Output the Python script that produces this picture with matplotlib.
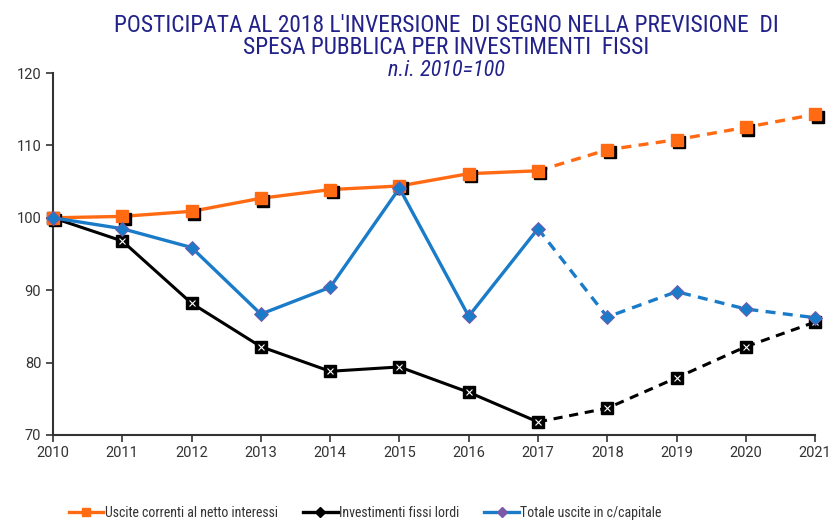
import matplotlib
matplotlib.use("Agg")
import matplotlib.pyplot as plt
from matplotlib.lines import Line2D
from matplotlib import font_manager
import matplotlib.transforms as mtransforms

years = [2010, 2011, 2012, 2013, 2014, 2015, 2016, 2017, 2018, 2019, 2020, 2021]
uscite_correnti = [100.0, 100.2, 100.9, 102.7, 103.9, 104.4, 106.1, 106.5, 109.4, 110.8, 112.5, 114.3]
investimenti = [100.0, 96.8, 88.2, 82.2, 78.8, 79.4, 75.9, 71.8, 73.7, 77.9, 82.2, 85.6]
totale_capitale = [100.0, 98.5, 95.9, 86.7, 90.4, 104.1, 86.4, 98.5, 86.3, 89.8, 87.4, 86.2]
split = 7  # index of 2017: dashed from here

title = "POSTICIPATA AL 2018 L'INVERSIONE  DI SEGNO NELLA PREVISIONE  DI\nSPESA PUBBLICA PER INVESTIMENTI  FISSI"
subtitle = "n.i. 2010=100"
labels = ["Uscite correnti al netto interessi", "Investimenti fissi lordi", "Totale uscite in c/capitale"]

names = {f.name for f in font_manager.fontManager.ttflist}
narrow = "Roboto"
for cand in ["Roboto Condensed", "Liberation Sans Narrow", "Arial Narrow"]:
    if cand in names:
        narrow = cand
        break
plt.rcParams['font.family'] = ['Roboto', 'DejaVu Sans']

ORANGE = "#ff6a13"
BLUE = "#1a7cc9"
BLACK = "#000000"
NAVY = "#22228a"
PURPLE = "#7a5aa8"

fig = plt.figure(figsize=(8.32, 5.2), dpi=100)
ax = fig.add_axes([0.0637, 0.1635, 0.916, 0.696])

shadow = mtransforms.offset_copy(ax.transData, fig=fig, x=2.5, y=-2.5, units='dots')

def draw(vals, color, lw, marker, mfc, mec, ms, z, mew=1.0, shadow_sq=False):
    ax.plot(years[:split+1], vals[:split+1], color=color, lw=lw, ls='-', zorder=z, solid_capstyle='butt')
    ax.plot(years[split:], vals[split:], color=color, lw=lw, ls=(0, (3, 2.2)), zorder=z, dash_capstyle='butt')
    if shadow_sq:
        ax.plot(years, vals, ls='none', marker='s', ms=8, mfc='black', mec='black', transform=shadow, zorder=z + 0.1)
    ax.plot(years, vals, ls='none', marker=marker, ms=ms, mfc=mfc, mec=mec, mew=mew, zorder=z + 0.2)

draw(uscite_correnti, ORANGE, 2.4, 's', ORANGE, ORANGE, 8, 3, shadow_sq=True)
draw(investimenti, BLACK, 2.2, 's', BLACK, BLACK, 8, 2)
ax.plot(years, investimenti, ls='none', marker='x', ms=5, mec='white', mew=0.8, zorder=2.4)
draw(totale_capitale, BLUE, 2.4, 'D', BLUE, PURPLE, 7.5, 4, mew=0.7)

ax.set_xlim(2010, 2021)
ax.set_ylim(70, 120)
ax.set_xticks(years)
ax.set_yticks([70, 80, 90, 100, 110, 120])
for s in ['top', 'right']:
    ax.spines[s].set_visible(False)
for s in ['left', 'bottom']:
    ax.spines[s].set_color('#333333')
    ax.spines[s].set_linewidth(1.5)
ax.tick_params(axis='both', direction='out', length=5, width=1.2, color='#333333', labelsize=10.5, labelcolor='#333333')
ax.tick_params(axis='x', pad=3)
for l in ax.lines:
    l.set_clip_on(False)

fig.text(0.536, 0.93, title, ha='center', va='center', fontsize=16.8, color=NAVY,
         family=[narrow, 'DejaVu Sans'], linespacing=0.96)
fig.text(0.536, 0.865, subtitle, ha='center', va='center', fontsize=16, color=NAVY,
         style='italic', family=[narrow, 'DejaVu Sans'])

handles = [
    Line2D([], [], color=ORANGE, lw=2.4, marker='s', ms=6, mfc=ORANGE, mec=ORANGE),
    Line2D([], [], color=BLACK, lw=2.4, marker='D', ms=5, mfc=BLACK, mec=BLACK),
    Line2D([], [], color=BLUE, lw=2.4, marker='D', ms=5, mfc=PURPLE, mec=PURPLE),
]
fig.legend(handles, labels, loc='center', bbox_to_anchor=(0.439, 0.013), ncol=3, frameon=False,
           prop={'family': [narrow, 'DejaVu Sans'], 'size': 10}, handlelength=2.5, handletextpad=0.1,
           columnspacing=1.8, labelcolor='#333333')

fig.savefig("out.png", dpi=100)
